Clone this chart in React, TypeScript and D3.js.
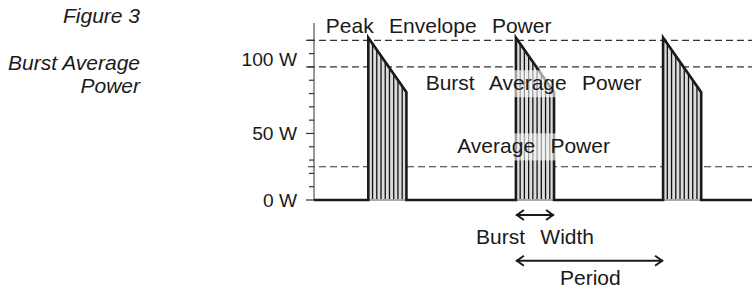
import React from "react";
import * as d3 from "d3";

// ---- data ----
const burstStarts = [12.4, 46.1, 79.7]; // time units
const burstWidth = 8.7;
const burstPeak = 122; // W
const burstEnd = 81; // W
const hatchCount = 8;
const refLevels = [120, 100, 25]; // Peak envelope, burst average, average
const tickValues = [0, 10, 20, 30, 40, 50, 60, 70, 80, 90, 100, 110, 120];
const majorTicks = [0, 50, 100, 120];
const tickLabels = [
  { v: 0, t: "0 W" },
  { v: 50, t: "50 W" },
  { v: 100, t: "100 W" },
];
const labels = [
  { t: "Peak Envelope Power", x: 2.7, v: 125.4 },
  { t: "Burst Average Power", x: 25.5, v: 82.5 },
  { t: "Average Power", x: 32.7, v: 35 },
];

const W = 752;
const H = 290;
const FONT = "'Liberation Sans', Arial, sans-serif";
const tickLabelNudge: Record<number, number> = { 100: -8 };

export default function App() {
  const x = d3.scaleLinear().domain([0, 100]).range([314, 752]);
  const y = d3.scaleLinear().domain([0, 133]).range([200, 23]);

  const pts: [number, number][] = [[0, 0]];
  burstStarts.forEach((s) => {
    pts.push([s, 0], [s, burstPeak], [s + burstWidth, burstEnd], [s + burstWidth, 0]);
  });
  pts.push([100, 0]);
  const line = d3
    .line<[number, number]>()
    .x((d) => x(d[0]))
    .y((d) => y(d[1]));

  const topAt = (s: number, t: number) =>
    burstPeak + ((burstEnd - burstPeak) * (t - s)) / burstWidth;

  const arrow = (x1: number, x2: number, yy: number, key: string) => (
    <g key={key} stroke="#1a1a1a" strokeWidth={2} fill="none">
      <line x1={x1} x2={x2} y1={yy} y2={yy} />
      <polyline points={`${x1 + 8},${yy - 5} ${x1 + 1},${yy} ${x1 + 8},${yy + 5}`} />
      <polyline points={`${x2 - 8},${yy - 5} ${x2 - 1},${yy} ${x2 - 8},${yy + 5}`} />
    </g>
  );

  const s1 = burstStarts[1];
  const s2 = burstStarts[2];

  return (
    <svg
      width={W}
      height={H}
      style={{ position: "absolute", left: 0, top: 0, background: "#fff" }}
      fontFamily={FONT}
    >
      <g fontStyle="italic" fontSize={21} fill="#1a1a1a" textAnchor="end">
        <text x={140} y={22.7}>Figure 3</text>
        <text x={140} y={70}>Burst Average</text>
        <text x={140} y={93}>Power</text>
      </g>

      <line x1={x(0)} x2={x(0)} y1={y(133)} y2={y(0)} stroke="#777" strokeWidth={1.5} />
      {tickValues.map((v) => (
        <line
          key={v}
          x1={x(0) - (majorTicks.includes(v) ? 8 : 5)}
          x2={x(0)}
          y1={y(v)}
          y2={y(v)}
          stroke="#333"
          strokeWidth={1.2}
        />
      ))}
      {tickLabels.map((d) => (
        <text
          key={d.t}
          x={x(0) - 17}
          y={y(d.v) + (tickLabelNudge[d.v] || 0)}
          dy="0.35em"
          textAnchor="end"
          fontSize={19.2}
          fill="#1a1a1a"
        >
          {d.t}
        </text>
      ))}

      {refLevels.map((v) => (
        <line
          key={v}
          x1={x(0) - 6}
          x2={W}
          y1={y(v)}
          y2={y(v)}
          stroke="#333"
          strokeWidth={1.2}
          strokeDasharray="7,4"
        />
      ))}

      {burstStarts.map((s, i) => {
        const poly = [
          [s, 0],
          [s, burstPeak],
          [s + burstWidth, burstEnd],
          [s + burstWidth, 0],
        ]
          .map((p) => `${x(p[0])},${y(p[1])}`)
          .join(" ");
        const hatches = d3.range(1, hatchCount + 1).map((k) => s + (k * burstWidth) / (hatchCount + 1));
        return (
          <g key={i}>
            <polygon points={poly} fill="#dcdcdc" stroke="none" />
            {hatches.map((t, k) => (
              <line
                key={k}
                x1={x(t)}
                x2={x(t)}
                y1={y(0)}
                y2={y(topAt(s, t))}
                stroke="#111"
                strokeWidth={1.3}
              />
            ))}
            <line
              x1={x(s)}
              x2={x(s + burstWidth)}
              y1={y(0)}
              y2={y(0)}
              stroke="#aaa"
              strokeWidth={2}
            />
          </g>
        );
      })}
      <path d={line(pts) || ""} fill="none" stroke="#1a1a1a" strokeWidth={2.6} strokeLinejoin="miter" />

      {labels.map((d, i) => (
        <g key={d.t}>
          {i > 0 && (
            <rect
              x={x(d.x) - 2}
              y={y(d.v) - 20}
              width={i === 1 ? 221 : 160}
              height={27}
              fill="#fff"
              fillOpacity={0.6}
            />
          )}
          <text
            x={x(d.x)}
            y={y(d.v)}
            fontSize={21}
            fill="#1a1a1a"
            style={{ wordSpacing: "9.5px" }}
          >
            {d.t}
          </text>
        </g>
      ))}

      {arrow(x(s1), x(s1 + burstWidth), 215, "bw")}
      {arrow(x(s1), x(s2), 260.7, "per")}
      <g fontSize={21} fill="#1a1a1a" style={{ wordSpacing: "9.5px" }}>
        <text x={476} y={244}>Burst Width</text>
        <text x={560} y={285}>Period</text>
      </g>
    </svg>
  );
}
